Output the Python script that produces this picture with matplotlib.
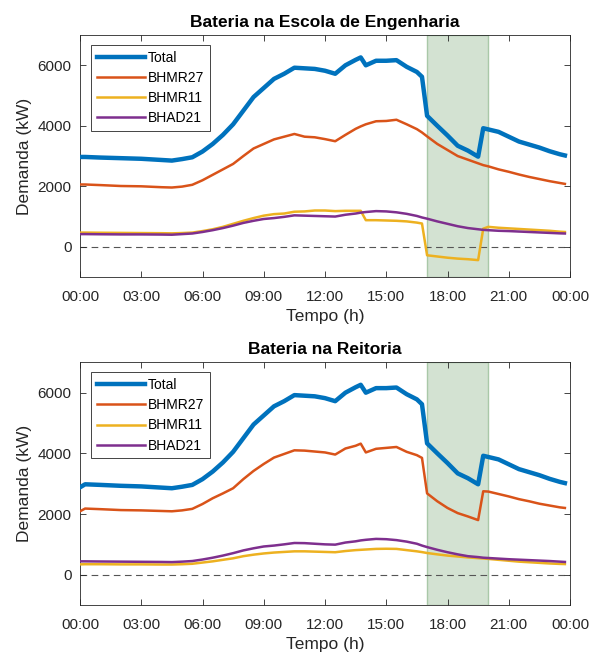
import matplotlib
matplotlib.use("Agg")
import matplotlib.pyplot as plt

# hours of the day (shared by all series)
hours = [0, 0.25, 1, 2, 3, 4, 4.5, 5, 5.5, 6, 6.5, 7, 7.5, 8, 8.5, 9, 9.5, 10,
         10.5, 11, 11.5, 12, 12.5, 13, 13.5, 13.75, 14, 14.5, 15, 15.5, 16,
         16.5, 16.75, 17, 17.5, 18, 18.5, 19, 19.5, 19.75, 20, 20.5, 21, 21.5,
         22, 22.5, 23, 23.5, 23.75]

# panel 1: battery at the engineering school
eng_total = [2970, 2970, 2950, 2930, 2910, 2870, 2850, 2900, 2960, 3150, 3400,
             3700, 4050, 4500, 4950, 5250, 5550, 5720, 5920, 5900, 5880, 5820,
             5720, 6000, 6180, 6260, 6000, 6150, 6150, 6170, 5950, 5780, 5620,
             4330, 4000, 3680, 3340, 3180, 2980, 3920, 3880, 3800, 3640, 3480,
             3380, 3280, 3160, 3060, 3020]
eng_bhmr27 = [2060, 2060, 2040, 2010, 2000, 1970, 1960, 1990, 2050, 2200, 2380,
              2560, 2740, 3000, 3250, 3400, 3550, 3640, 3730, 3640, 3620, 3560,
              3490, 3700, 3900, 3980, 4050, 4150, 4160, 4200, 4050, 3890, 3780,
              3650, 3400, 3200, 3000, 2880, 2760, 2700, 2660, 2560, 2480, 2390,
              2310, 2240, 2170, 2110, 2080]
eng_bhmr11 = [470, 470, 465, 460, 455, 450, 445, 455, 470, 520, 580, 660, 760,
              860, 950, 1030, 1080, 1100, 1160, 1170, 1200, 1200, 1180, 1190,
              1190, 1190, 880, 880, 870, 860, 840, 800, 770, -280, -320, -360,
              -390, -410, -440, 600, 660, 630, 610, 590, 570, 550, 530, 500, 490]
eng_bhad21 = [420, 420, 415, 410, 410, 405, 400, 420, 440, 490, 550, 620, 700,
              790, 860, 920, 950, 990, 1040, 1030, 1020, 1010, 1000, 1060, 1100,
              1130, 1150, 1180, 1170, 1140, 1090, 1020, 970, 930, 840, 760, 680,
              620, 580, 560, 550, 530, 520, 505, 490, 475, 460, 445, 440]

# panel 2: battery at the rectory
rei_total = [2880, 2980, 2960, 2930, 2910, 2870, 2850, 2900, 2960, 3150, 3400,
             3700, 4050, 4500, 4950, 5250, 5550, 5720, 5920, 5900, 5880, 5820,
             5720, 6000, 6180, 6260, 6000, 6150, 6150, 6170, 5950, 5780, 5620,
             4330, 4000, 3680, 3340, 3180, 2980, 3920, 3880, 3800, 3640, 3480,
             3380, 3280, 3160, 3060, 3020]
rei_bhmr27 = [2090, 2180, 2160, 2130, 2120, 2100, 2090, 2120, 2170, 2330, 2520,
              2680, 2850, 3150, 3420, 3650, 3860, 3980, 4100, 4090, 4060, 4030,
              3960, 4160, 4250, 4320, 4030, 4150, 4180, 4210, 4050, 3940, 3850,
              2680, 2420, 2200, 2030, 1920, 1800, 2750, 2740, 2660, 2580, 2490,
              2420, 2340, 2280, 2220, 2200]
rei_bhmr11 = [340, 345, 345, 340, 340, 335, 335, 345, 360, 400, 440, 490, 540,
              610, 660, 700, 730, 750, 770, 770, 760, 750, 740, 780, 810, 820,
              830, 850, 855, 850, 810, 770, 745, 715, 670, 630, 600, 570, 545,
              535, 520, 490, 460, 430, 410, 390, 370, 355, 350]
rei_bhad21 = [440, 440, 435, 430, 425, 420, 415, 430, 450, 500, 560, 630, 710,
              800, 870, 930, 960, 1000, 1045, 1040, 1020, 1000, 990, 1060, 1100,
              1130, 1150, 1180, 1170, 1140, 1090, 1020, 960, 910, 820, 740, 670,
              610, 580, 560, 550, 530, 510, 495, 480, 465, 450, 430, 420]

titles = ["Bateria na Escola de Engenharia", "Bateria na Reitoria"]
series_names = ["Total", "BHMR27", "BHMR11", "BHAD21"]
tick_hours = [0, 3, 6, 9, 12, 15, 18, 21, 24]
tick_labels = ["00:00", "03:00", "06:00", "09:00", "12:00", "15:00", "18:00",
               "21:00", "00:00"]
peak_window = (17, 20)

colors = ["#0072BD", "#D95319", "#EDB120", "#7E2F8E"]
widths = [3.2, 1.8, 1.8, 1.8]

plt.rcParams["font.family"] = ["Liberation Sans", "DejaVu Sans"]

fig = plt.figure(figsize=(5.9, 6.55), dpi=100)
ax_top = fig.add_axes([0.1356, 0.577, 0.8305, 0.3695])
ax_bot = fig.add_axes([0.1356, 0.0763, 0.8305, 0.3705])

panels = [
    (ax_top, [eng_total, eng_bhmr27, eng_bhmr11, eng_bhad21]),
    (ax_bot, [rei_total, rei_bhmr27, rei_bhmr11, rei_bhad21]),
]

grey = "#262626"
for (ax, data), title in zip(panels, titles):
    ax.axvspan(*peak_window, facecolor="#d3e2d2", edgecolor="#a9c8a8",
               linewidth=1.0, zorder=0)
    ax.axhline(0, color="#555555", linestyle=(0, (6, 4)), linewidth=0.8, zorder=1)
    for values, name, color, lw in zip(data, series_names, colors, widths):
        ax.plot(hours, values, color=color, linewidth=lw, label=name, zorder=3,
                solid_joinstyle="round")

    ax.set_xlim(0, 24)
    ax.set_ylim(-1000, 7000)
    ax.set_xticks(tick_hours)
    ax.set_xticklabels(tick_labels)
    ax.set_yticks([0, 2000, 4000, 6000])
    ax.tick_params(direction="in", top=True, right=True, length=4, width=0.6,
                   colors=grey, labelsize=11)
    ax.tick_params(axis="x", pad=9)
    ax.tick_params(axis="y", pad=6)
    for spine in ax.spines.values():
        spine.set_color(grey)
        spine.set_linewidth(0.6)
    ax.set_title(title, fontsize=12.5, fontweight="bold", pad=6)
    ax.set_xlabel("Tempo (h)", fontsize=12.5, color=grey, labelpad=4)
    ax.set_ylabel("Demanda (kW)", fontsize=12.5, color=grey, labelpad=4)

    leg = ax.legend(loc="upper left", bbox_to_anchor=(0.0224, 0.9587),
                    borderaxespad=0, handlelength=3.45, handletextpad=0.2,
                    borderpad=0.42, labelspacing=0.44, fontsize=10,
                    fancybox=False, framealpha=1)
    leg.get_frame().set_edgecolor(grey)
    leg.get_frame().set_linewidth(0.6)

fig.savefig("out.png", dpi=100)
